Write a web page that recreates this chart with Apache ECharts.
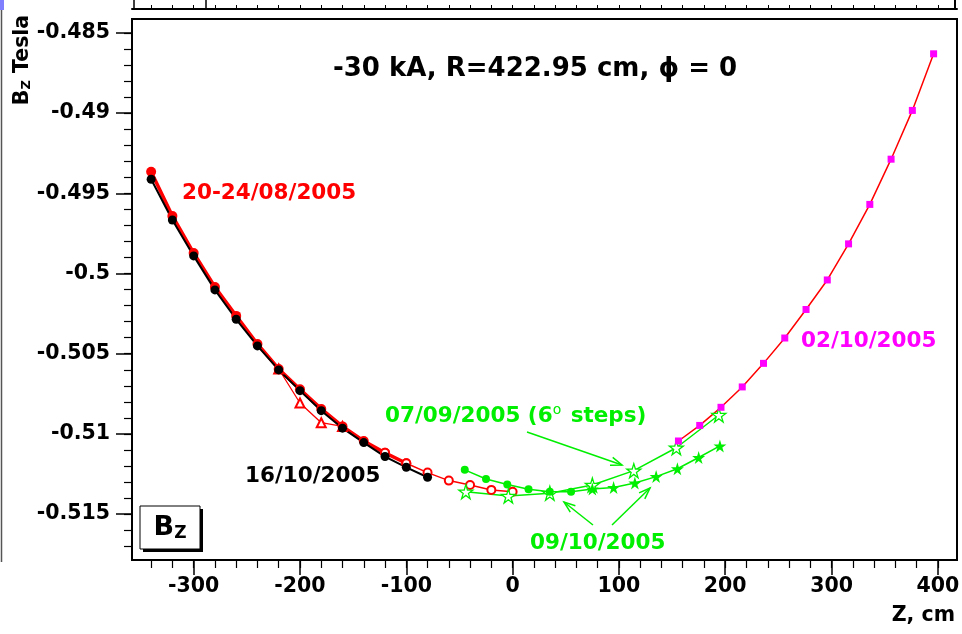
<!DOCTYPE html>
<html>
<head>
<meta charset="utf-8">
<script src="https://cdn.jsdelivr.net/npm/echarts@6/dist/echarts.min.js"></script>
<style>
  html, body { margin: 0; padding: 0; background: #fff; }
  #chart { width: 962px; height: 634px; }
</style>
</head>
<body>
<div id="chart"></div>
<script>
// B_Z field scans, -30 kA, R = 422.95 cm
const blackZ = [-340, -320, -300, -280, -260, -240, -220, -200, -180, -160, -140, -120, -100, -80];
const blackBz = [-0.49412, -0.49666, -0.49890, -0.50102, -0.50285, -0.50451, -0.50601, -0.50730, -0.50855, -0.50964, -0.51054, -0.51141, -0.51208, -0.51270];

const redZ = [-340, -320, -300, -280, -260, -240, -220, -200, -180, -160, -140, -120, -100];
const redBz = [-0.49365, -0.49641, -0.49872, -0.50084, -0.50264, -0.50439, -0.50595, -0.50722, -0.50844, -0.50953, -0.51044, -0.51118, -0.51183];

const redTriZ = [-220, -200, -180, -160];
const redTriBz = [-0.50595, -0.50807, -0.50930, -0.50953];

const redOpenZ = [-120, -100, -80, -60, -40, -20, 0];
const redOpenBz = [-0.51118, -0.51183, -0.51241, -0.51291, -0.51318, -0.51349, -0.51360];

const g0709Z = [-44, -4, 35, 75, 114, 154, 194];
const g0709Bz = [-0.51360, -0.51387, -0.51370, -0.51318, -0.51229, -0.51086, -0.50882];

const g0910Z = [-45, -25, -5, 15, 35, 55, 75, 95, 115, 135, 155, 175, 195];
const g0910Bz = [-0.51224, -0.51281, -0.51315, -0.51345, -0.51360, -0.51360, -0.51343, -0.51334, -0.51306, -0.51266, -0.51217, -0.51147, -0.51075];

const magZ = [156, 176, 196, 216, 236, 256, 276, 296, 316, 336, 356, 376, 396];
const magBz = [-0.51044, -0.50947, -0.50834, -0.50707, -0.50560, -0.50402, -0.50224, -0.50040, -0.49815, -0.49569, -0.49287, -0.48983, -0.48630];

const xTicks = [-300, -200, -100, 0, 100, 200, 300, 400];
const yTicks = [-0.515, -0.51, -0.505, -0.5, -0.495, -0.49, -0.485];

const GREEN = '#00ee00';
const FONT = 'DejaVu Sans';
const STAR = 'path://M50,0 L61,35 L98,35 L68,57 L79,91 L50,70 L21,91 L32,57 L2,35 L39,35 Z';

function pairs(xs, ys) {
  return xs.map((x, i) => [x, ys[i]]);
}

// minor ticks every 20 cm / 0.001 T
let xMinor = [];
for (let v = -340; v <= 400; v += 20) xMinor.push(v);
let yMinor = [];
for (let k = -517; k <= -485; k++) yMinor.push(k / 1000);

function arrow(x1, y1, x2, y2) {
  const a = Math.atan2(y2 - y1, x2 - x1), L = 12, w = 0.35;
  return [
    {type: 'line', shape: {x1, y1, x2, y2}, style: {stroke: GREEN, lineWidth: 1.5}},
    {type: 'polyline', shape: {points: [
      [x2 - L * Math.cos(a - w), y2 - L * Math.sin(a - w)],
      [x2, y2],
      [x2 - L * Math.cos(a + w), y2 - L * Math.sin(a + w)]
    ]}, style: {stroke: GREEN, lineWidth: 1.5, fill: null}}
  ];
}

function label(text, x, y, color, size, align) {
  return {
    type: 'text', x, y,
    style: {text, fill: color, font: 'bold ' + size + 'px "' + FONT + '"', align: align || 'left', verticalAlign: 'middle'}
  };
}

const axisFont = {color: '#000', fontFamily: FONT, fontWeight: 'bold', fontSize: 20.5};

let option = {
  animation: false,
  backgroundColor: '#fff',
  grid: {left: 132, right: 5, top: 19, bottom: 74, show: true, borderColor: '#000', borderWidth: 2, outerBoundsMode: 'none'},
  xAxis: [
    {
      type: 'value', min: -358, max: 418, position: 'bottom',
      axisLine: {show: true, onZero: false, lineStyle: {color: '#000', width: 2}},
      axisTick: {show: true, length: 15, customValues: xTicks, lineStyle: {color: '#000', width: 1.5}},
      axisLabel: Object.assign({customValues: xTicks, margin: 16}, axisFont),
      splitLine: {show: false}
    },
    {
      type: 'value', min: -358, max: 418, position: 'bottom',
      axisLine: {show: false, onZero: false},
      axisTick: {show: true, length: 8, customValues: xMinor, lineStyle: {color: '#000', width: 1.2}},
      axisLabel: {show: false},
      splitLine: {show: false}
    },
    {
      // bottom edge of the panel above
      type: 'value', min: -358, max: 418, position: 'top', offset: 10,
      axisLine: {show: true, onZero: false, lineStyle: {color: '#000', width: 2}},
      axisTick: {show: true, length: 4, customValues: xMinor, lineStyle: {color: '#000', width: 1}},
      axisLabel: {show: false},
      splitLine: {show: false}
    }
  ],
  yAxis: [
    {
      type: 'value', min: -0.51786, max: -0.48413, position: 'left',
      axisLine: {show: true, onZero: false, lineStyle: {color: '#000', width: 2}},
      axisTick: {show: true, length: 16, customValues: yTicks, lineStyle: {color: '#000', width: 1.5}},
      axisLabel: Object.assign({
        customValues: yTicks, margin: 22,
        formatter: v => String(parseFloat(v.toFixed(3)))
      }, axisFont),
      splitLine: {show: false}
    },
    {
      type: 'value', min: -0.51786, max: -0.48413, position: 'left',
      axisLine: {show: false, onZero: false},
      axisTick: {show: true, length: 8, customValues: yMinor, lineStyle: {color: '#000', width: 1.2}},
      axisLabel: {show: false},
      splitLine: {show: false}
    }
  ],
  series: [
    {
      name: '20-24/08/2005', type: 'line', data: pairs(redZ, redBz),
      symbol: 'circle', symbolSize: 10, itemStyle: {color: '#ff0000'},
      lineStyle: {color: '#ff0000', width: 3.5}
    },
    {
      name: '20-24/08/2005 b', type: 'line', data: pairs(redTriZ, redTriBz),
      symbol: 'emptyTriangle', symbolSize: 9, itemStyle: {color: '#ff0000', borderWidth: 1.2},
      lineStyle: {color: '#ff0000', width: 1.3}
    },
    {
      name: '20-24/08/2005 c', type: 'line', data: pairs(redOpenZ, redOpenBz),
      symbol: 'emptyCircle', symbolSize: 8, itemStyle: {color: '#ff0000', borderWidth: 1.2},
      lineStyle: {color: '#ff0000', width: 1.5}
    },
    {
      name: '16/10/2005', type: 'line', data: pairs(blackZ, blackBz),
      symbol: 'circle', symbolSize: 9, itemStyle: {color: '#000'},
      lineStyle: {color: '#000', width: 2}
    },
    {
      name: '07/09/2005', type: 'line', data: pairs(g0709Z, g0709Bz),
      symbol: STAR, symbolSize: 14, itemStyle: {color: '#fff', borderColor: GREEN, borderWidth: 1.3},
      lineStyle: {color: GREEN, width: 1.5}
    },
    {
      name: '09/10/2005', type: 'line',
      data: g0910Z.map((z, i) => ({value: [z, g0910Bz[i]], symbol: i < 6 ? 'circle' : STAR, symbolSize: i < 6 ? 8 : 13})),
      itemStyle: {color: GREEN},
      lineStyle: {color: GREEN, width: 1.5}
    },
    {
      name: '02/10/2005', type: 'line', data: pairs(magZ, magBz),
      symbol: 'rect', symbolSize: 7, itemStyle: {color: '#ff00ff'},
      lineStyle: {color: '#ff0000', width: 1.5}
    }
  ],
  graphic: [
    // frame bits of the neighbouring pads
    {type: 'rect', shape: {x: 0, y: 0, width: 4, height: 10}, style: {fill: '#8080ff'}},
    {type: 'line', shape: {x1: 1.5, y1: 10, x2: 1.5, y2: 562}, style: {stroke: '#555', lineWidth: 1.5}},
    {type: 'line', shape: {x1: 955, y1: 0, x2: 955, y2: 9}, style: {stroke: '#000', lineWidth: 2}},
    {type: 'rect', shape: {x: 134, y: -6, width: 72, height: 15}, style: {fill: '#fff', stroke: '#000', lineWidth: 1.5}},
    {type: 'text', x: 180, y: 4, style: {text: 'Z', fill: '#000', font: 'bold 16px "' + FONT + '"', align: 'center', verticalAlign: 'bottom'}},

    label('-30 kA, R=422.95 cm, \u03d5 = 0', 535, 69, '#000', 26, 'center'),
    label('20-24/08/2005', 182, 193, '#ff0000', 21.5),
    label('16/10/2005', 245, 476, '#000', 21.5),
    {
      type: 'text', x: 385, y: 416,
      style: {
        text: '{a|07/09/2005 (6}{s|o}{a| steps)}', fill: GREEN,
        rich: {
          a: {fill: GREEN, font: 'bold 21.5px "' + FONT + '"'},
          s: {fill: GREEN, font: '14px "' + FONT + '"', verticalAlign: 'top', padding: [0, 2, 12, 0]}
        },
        verticalAlign: 'middle'
      }
    },
    label('09/10/2005', 530, 543, GREEN, 21.5),
    label('02/10/2005', 801, 341, '#ff00ff', 21.5),
    label('Z, cm', 955, 616, '#000', 20.5, 'right'),
    {
      type: 'text', x: 23, y: 60, rotation: Math.PI / 2,
      style: {
        text: '{b|B}{s|Z}{b| Tesla}', align: 'center', verticalAlign: 'middle',
        rich: {
          b: {fill: '#000', font: 'bold 20.5px "' + FONT + '"'},
          s: {fill: '#000', font: 'bold 13px "' + FONT + '"', padding: [8, 0, 0, 0]}
        }
      }
    },
    // B_Z box with shadow
    {type: 'rect', shape: {x: 143, y: 509, width: 60, height: 43}, style: {fill: '#000'}},
    {type: 'rect', shape: {x: 140, y: 506, width: 60, height: 43}, style: {fill: '#fff', stroke: '#000', lineWidth: 1}},
    {
      type: 'text', x: 170, y: 528,
      style: {
        text: '{b|B}{s|Z}', align: 'center', verticalAlign: 'middle',
        rich: {
          b: {fill: '#000', font: 'bold 27px "' + FONT + '"'},
          s: {fill: '#000', font: 'bold 17px "' + FONT + '"', padding: [12, 0, 0, 0]}
        }
      }
    }
  ].concat(arrow(527, 432, 622, 465), arrow(593, 525, 564, 502), arrow(612, 525, 650, 488))
};

let chart = echarts.init(document.getElementById('chart'));
chart.setOption(option);
</script>
</body>
</html>
